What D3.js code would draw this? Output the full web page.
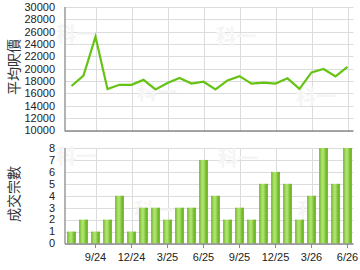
<!DOCTYPE html>
<html>
<head>
<meta charset="utf-8">
<script src="https://cdn.jsdelivr.net/npm/d3@7"></script>
<style>
  body { margin: 0; background: #fff; }
  svg { display: block; font-family: "Liberation Sans", Arial, sans-serif; }
</style>
</head>
<body>
<div id="chart"></div>
<script>
// monthly data, Jul 2024 .. Jun 2026
const months = ['7/24','8/24','9/24','10/24','11/24','12/24','1/25','2/25','3/25','4/25','5/25','6/25',
                '7/25','8/25','9/25','10/25','11/25','12/25','1/26','2/26','3/26','4/26','5/26','6/26'];
const avgPrice = [17200, 18900, 25200, 16700, 17400, 17400, 18200, 16650, 17700, 18500, 17600, 17900,
                  16650, 18100, 18800, 17600, 17750, 17600, 18450, 16750, 19400, 19950, 18750, 20300];
const deals = [1, 2, 1, 2, 4, 1, 3, 3, 2, 3, 3, 7, 4, 2, 3, 2, 5, 6, 5, 2, 4, 8, 5, 8];
const xTickLabels = ['9/24', '12/24', '3/25', '6/25', '9/25', '12/25', '3/26', '6/26'];
const priceTicks = d3.range(10000, 30001, 2000);
const dealTicks = d3.range(0, 9, 1);

const W = 360, H = 270;
const left = 65, right = 353.5;

const svg = d3.select('#chart').append('svg').attr('width', W).attr('height', H);

const defs = svg.append('defs');
const grad = defs.append('linearGradient').attr('id', 'barGrad').attr('x1', '0').attr('x2', '1').attr('y1', '0').attr('y2', '0');
[[0, '#5fae14'], [0.2, '#9ad655'], [0.45, '#b4e47a'], [0.7, '#86c83e'], [1, '#5aa612']]
  .forEach(([o, c]) => grad.append('stop').attr('offset', o).attr('stop-color', c));

const x = d3.scaleBand().domain(months).range([left + 0.5, right]).paddingInner(0.28).paddingOuter(0.14);
const cx = m => x(m) + x.bandwidth() / 2;

function watermark(g, pts) {
  g.selectAll('text.wm').data(pts).join('text')
    .attr('class', 'wm')
    .attr('x', d => d[0]).attr('y', d => d[1])
    .style('font-family', '"Noto Sans CJK TC", sans-serif')
    .style('font-size', '20px').style('font-weight', 'bold')
    .attr('fill', '#f5f5f5')
    .text('科一');
}

function frame(yScale, ticks, fmt, top, bottom) {
  const g = svg.append('g');
  // horizontal grid
  g.selectAll('line.h').data(ticks).join('line')
    .attr('x1', left).attr('x2', right)
    .attr('y1', d => Math.round(yScale(d)) + 0.5).attr('y2', d => Math.round(yScale(d)) + 0.5)
    .attr('stroke', '#dcdcdc');
  // vertical grid
  g.selectAll('line.v').data(xTickLabels).join('line')
    .attr('x1', d => Math.round(cx(d)) + 0.5).attr('x2', d => Math.round(cx(d)) + 0.5)
    .attr('y1', top).attr('y2', bottom)
    .attr('stroke', '#dcdcdc');
  // tick labels
  g.selectAll('text.yl').data(ticks).join('text')
    .attr('x', 55).attr('y', d => yScale(d)).attr('dy', '0.35em')
    .attr('text-anchor', 'end').style('font-size', '11px').attr('fill', '#222')
    .text(fmt);
  return g;
}

// ---------- top: average price line ----------
const yP = d3.scaleLinear().domain([10000, 30000]).range([130.5, 7]);
const gTop = frame(yP, priceTicks, d => d, 7, 131);
watermark(gTop, [[56, 42], [216, 44], [137, 100], [296, 104]]);

gTop.append('path')
  .datum(avgPrice)
  .attr('fill', 'none').attr('stroke', '#66c313').attr('stroke-width', 2.2)
  .attr('stroke-linejoin', 'miter')
  .attr('d', d3.line().x((d, i) => cx(months[i])).y(d => yP(d)));

gTop.append('line').attr('x1', left).attr('x2', left).attr('y1', 7).attr('y2', 131.5).attr('stroke', '#9a9a9a').attr('stroke-width', 1.5);
gTop.append('line').attr('x1', left).attr('x2', right).attr('y1', 131).attr('y2', 131).attr('stroke', '#8a8a8a').attr('stroke-width', 1.5);

// ---------- bottom: deal counts ----------
const yD = d3.scaleLinear().domain([0, 8]).range([243.5, 148]);
const gBot = frame(yD, dealTicks, d => d, 148, 244);
watermark(gBot, [[56, 164], [218, 166], [134, 218], [298, 218]]);

gBot.selectAll('rect.bar').data(deals).join('rect')
  .attr('class', 'bar')
  .attr('x', (d, i) => x(months[i])).attr('width', x.bandwidth())
  .attr('y', d => yD(d)).attr('height', d => yD(0) - yD(d))
  .attr('fill', 'url(#barGrad)');

gBot.append('line').attr('x1', left).attr('x2', left).attr('y1', 148).attr('y2', 244).attr('stroke', '#9a9a9a').attr('stroke-width', 1.5);
gBot.append('line').attr('x1', left).attr('x2', right).attr('y1', 244).attr('y2', 244).attr('stroke', '#8a8a8a').attr('stroke-width', 1.5);

const xAxis = d3.axisBottom(x).tickValues(xTickLabels).tickSize(4).tickSizeOuter(0);
const ax = gBot.append('g').attr('transform', 'translate(0,244)').call(xAxis);
ax.select('.domain').remove();
ax.selectAll('.tick line').attr('stroke', '#8a8a8a');
ax.selectAll('.tick text').attr('dy', '0.9em').style('font-size', '11px').style('font-family', '"Liberation Sans", Arial, sans-serif').attr('fill', '#222');

// axis titles
[['平均呎價', 67], ['成交宗數', 194]].forEach(([t, cy]) => {
  svg.append('text')
    .attr('transform', `translate(19,${cy}) rotate(-90)`)
    .attr('text-anchor', 'middle')
    .style('font-family', '"Noto Sans CJK TC", sans-serif')
    .style('font-size', '14px').attr('fill', '#333')
    .text(t);
});
</script>
</body>
</html>
